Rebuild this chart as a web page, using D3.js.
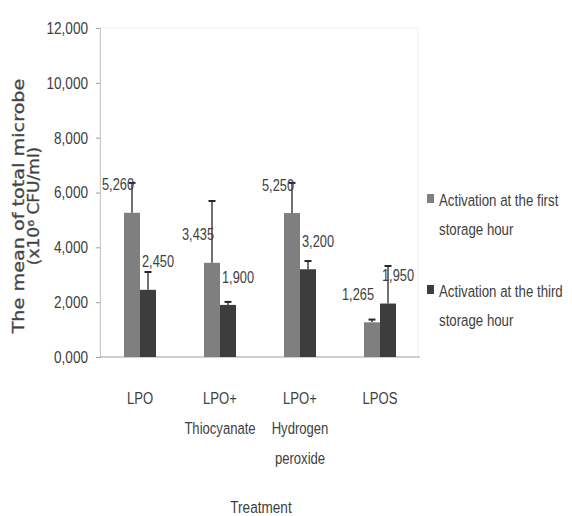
<!DOCTYPE html>
<html><head><meta charset="utf-8">
<script src="https://cdn.jsdelivr.net/npm/d3@7"></script>
<style>
body{margin:0;background:#fff}
svg text{font-family:"Liberation Sans",Arial,sans-serif;fill:#404040}
</style></head><body>
<svg id="c" width="572" height="516"></svg>
<script>
const categories = [["LPO"],["LPO+","Thiocyanate"],["LPO+","Hydrogen","peroxide"],["LPOS"]];
const catKeys = ["LPO","LPO+ Thiocyanate","LPO+ Hydrogen peroxide","LPOS"];
const seriesNames = [["Activation at the first","storage hour"],["Activation at the third","storage hour"]];
const firstHour = [5260, 3435, 5250, 1265];
const thirdHour = [2450, 1900, 3200, 1950];
const firstErr = [1090, 2255, 1100, 100];
const thirdErr = [650, 110, 300, 1370];
const yTicks = [0,2000,4000,6000,8000,10000,12000];
const yTickLabels = ["0,000","2,000","4,000","6,000","8,000","10,000","12,000"];
const colors = ["#7f7f7f","#3d3d3d"];

const svg = d3.select("#c");
const x = d3.scaleBand().domain(catKeys).range([100,420]).paddingInner(0.6).paddingOuter(0.3);
const xs = d3.scaleBand().domain([0,1]).range([0,x.bandwidth()]);
const y = d3.scaleLinear().domain([0,12000]).range([357,28]);

// condensed text via horizontal scale transform
function ctext(parent, px, py, str, size, anchor, f, dy){
  const g = parent.append("g").attr("transform",`translate(${px},${py}) scale(${f},1)`);
  return g.append("text").attr("x",0).attr("y",0).attr("dy",dy||"0.35em")
    .attr("text-anchor",anchor).attr("font-size",size).text(str);
}

// faint plot border
svg.append("rect").attr("x",100).attr("y",28).attr("width",318).attr("height",329)
  .attr("fill","none").attr("stroke","#efefef");

// y axis
const yAxis = d3.axisLeft(y).tickValues(yTicks).tickSize(4).tickFormat("");
const ga = svg.append("g").attr("transform","translate(100,0)").call(yAxis);
ga.select(".domain").attr("stroke","#c8c8c8");
ga.selectAll(".tick line").attr("stroke","#a0a0a0");
yTicks.forEach((t,i)=>ctext(svg, 88, y(t), yTickLabels[i], 17, "end", 0.8));

// baseline
svg.append("line").attr("x1",100).attr("x2",420).attr("y1",y(0)).attr("y2",y(0)).attr("stroke","#a6a6a6");

const series = [firstHour, thirdHour];
const errs = [firstErr, thirdErr];
series.forEach((vals,s)=>{
  const g = svg.append("g");
  g.selectAll("rect").data(vals).join("rect")
    .attr("x",(d,i)=>x(catKeys[i])+xs(s)).attr("width",xs.bandwidth())
    .attr("y",d=>y(d)).attr("height",d=>y(0)-y(d)).attr("fill",colors[s]);
  vals.forEach((v,i)=>{
    const cx = x(catKeys[i])+xs(s)+xs.bandwidth()/2;
    const top = y(v+errs[s][i]);
    g.append("line").attr("x1",cx).attr("x2",cx).attr("y1",y(v)).attr("y2",top).attr("stroke","#262626").attr("stroke-width",1.3);
    g.append("line").attr("x1",cx-3.5).attr("x2",cx+3.5).attr("y1",top).attr("y2",top).attr("stroke","#262626").attr("stroke-width",2);
    const lx = s===0 ? cx+2 : x(catKeys[i])+xs(s)+2;
    ctext(svg, lx, y(v)-28, d3.format(",")(v), 16, s===0?"end":"start", 0.8);
  });
});

// category labels
categories.forEach((lines,i)=>{
  lines.forEach((l,j)=>{
    ctext(svg, x(catKeys[i])+x.bandwidth()/2, 398 + j*30, l, 17, "middle", 0.77);
  });
});

// x title
ctext(svg, 261, 507, "Treatment", 17, "middle", 0.8);

// y title
const ytLines = ["The mean of total microbe","(x10⁶ CFU/ml)"];
const ytScale = [1.24, 1.1];
ytLines.forEach((l,j)=>{
  const g = svg.append("g").attr("transform",`translate(${19+j*15},206) rotate(-90) scale(${ytScale[j]},1)`);
  g.append("text").attr("text-anchor","middle").attr("dy","0.35em")
    .style("font-family","'DejaVu Sans',sans-serif").attr("font-size",15.5).attr("fill","#5a5a5a")
    .attr("stroke","#5a5a5a").attr("stroke-width",0.35).text(l);
});

// legend
seriesNames.forEach((lines,s)=>{
  const base = 206 + s*91;
  svg.append("rect").attr("x",427).attr("y",base-12).attr("width",7).attr("height",9).attr("fill",colors[s]);
  lines.forEach((l,j)=>{
    ctext(svg, 439, base + j*29, l, 17, "start", 0.78, "0");
  });
});
</script></body></html>
